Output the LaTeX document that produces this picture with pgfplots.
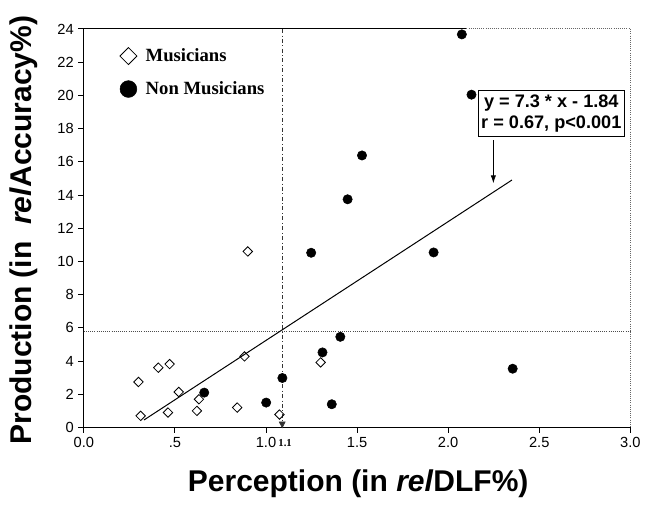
\documentclass[border=0pt]{standalone}
\usepackage{fontspec}
\setmainfont{Liberation Sans}
\newfontfamily\timesfont{Liberation Serif}
\usepackage{pgfplots}
\pgfplotsset{compat=1.18}
\usetikzlibrary{arrows.meta}
\begin{document}
\begin{tikzpicture}
\begin{axis}[
  scale only axis,
  width=410pt, height=299pt,
  xmin=0, xmax=3, ymin=0, ymax=24,
  axis x line*=bottom, axis y line*=left,
  axis line style={black, line width=0.7pt},
  clip=false,
  tick align=outside,
  major tick length=4pt,
  tick style={black, line width=0.6pt},
  xtick={0,0.5,1,1.5,2,2.5,3},
  xticklabels={0.0,.5,1.0,1.5,2.0,2.5,3.0},
  ytick={0,2,...,24},
  /pgf/number format/assume math mode=true,
  ticklabel style={font=\fontsize{11}{13}\selectfont},
  xlabel={\textbf{Perception (in \textit{rel}DLF\%)}},
  ylabel={\textbf{Production (in\ \ \textit{rel}Accuracy\%)}},
  label style={font=\fontsize{22.5}{26}\selectfont},
  xlabel style={at={(axis description cs:0.502,-0.14)}, anchor=center},
  ylabel style={at={(axis description cs:-0.109,0.495)}, anchor=center},
  legend style={at={(axis cs:0.175,23.15)}, anchor=north west, draw=none, fill=none,
    font=\timesfont\bfseries\fontsize{14}{16}\selectfont, row sep=9.5pt,
    nodes={inner xsep=1pt}},
  legend cell align=left,
  legend image code/.code={
    \path[draw=none, fill=none] (0cm,-0.2cm) rectangle (0.62cm,0.2cm);
    \draw[#1, every mark/.append style={scale=1.8}] plot coordinates {(0.2cm,0cm)};},
]
% Musicians
\addplot[only marks, mark=square, mark size=2.5pt, mark options={rotate=45, fill=white, draw=black, line width=0.6pt}] coordinates {
  (0.300,2.74) (0.312,0.70) (0.409,3.60) (0.471,3.82) (0.462,0.90)
  (0.521,2.14) (0.632,1.70) (0.621,1.00) (0.842,1.20) (0.882,4.28)
  (0.900,10.6) (1.074,0.78) (1.300,3.92)
};
\addlegendentry{Musicians}
% Non musicians
\addplot[only marks, mark=*, mark size=3.5pt, mark options={fill=black, draw=black}] coordinates {
  (0.661,2.10) (1.001,1.50) (1.090,2.98) (1.248,10.52) (1.310,4.52)
  (1.408,5.46) (1.361,1.40) (2.354,3.54) (1.920,10.54) (2.075,23.67)
  (2.128,20.04) (1.527,16.38) (1.448,13.74)
};
\addlegendentry{Non Musicians}
% regression line
\addplot[black, line width=0.75pt, forget plot] coordinates {(0.33,0.45) (2.35,14.9)};
% reference lines
\addplot[black!70, densely dotted, line width=0.6pt, forget plot] coordinates {(0,5.78) (3,5.78)};
\addplot[black!80, dash dot, line width=0.5pt, forget plot, -{Triangle[length=5pt,width=5pt]}] coordinates {(1.089,24) (1.089,-0.05)};
% frame top and right
\draw[black, line width=0.7pt] (axis cs:0,24) -- (axis cs:2.1,24);
\draw[black!60, densely dotted, line width=0.6pt] (axis cs:2.1,24) -- (axis cs:3,24) -- (axis cs:3,0);
% annotations
\node[font=\timesfont\bfseries\fontsize{8}{9}\selectfont] at (axis cs:1.105,-0.96) {1.1};
\node[draw=black, line width=0.6pt, fill=white, align=center, inner xsep=2pt, inner ysep=3pt,
  font=\bfseries\fontsize{13.6}{16}\selectfont] at (axis cs:2.566,18.91)
  {y = 7.3 * x - 1.84\\r = 0.67, p<0.001};
\draw[black, line width=0.6pt, -{Latex[length=6pt,width=4pt]}] (axis cs:2.248,17.3) -- (axis cs:2.248,14.7);
% page bounds
\path (axis cs:-0.460,25.74) rectangle (axis cs:3.074,-4.86);
\end{axis}
\end{tikzpicture}
\end{document}
